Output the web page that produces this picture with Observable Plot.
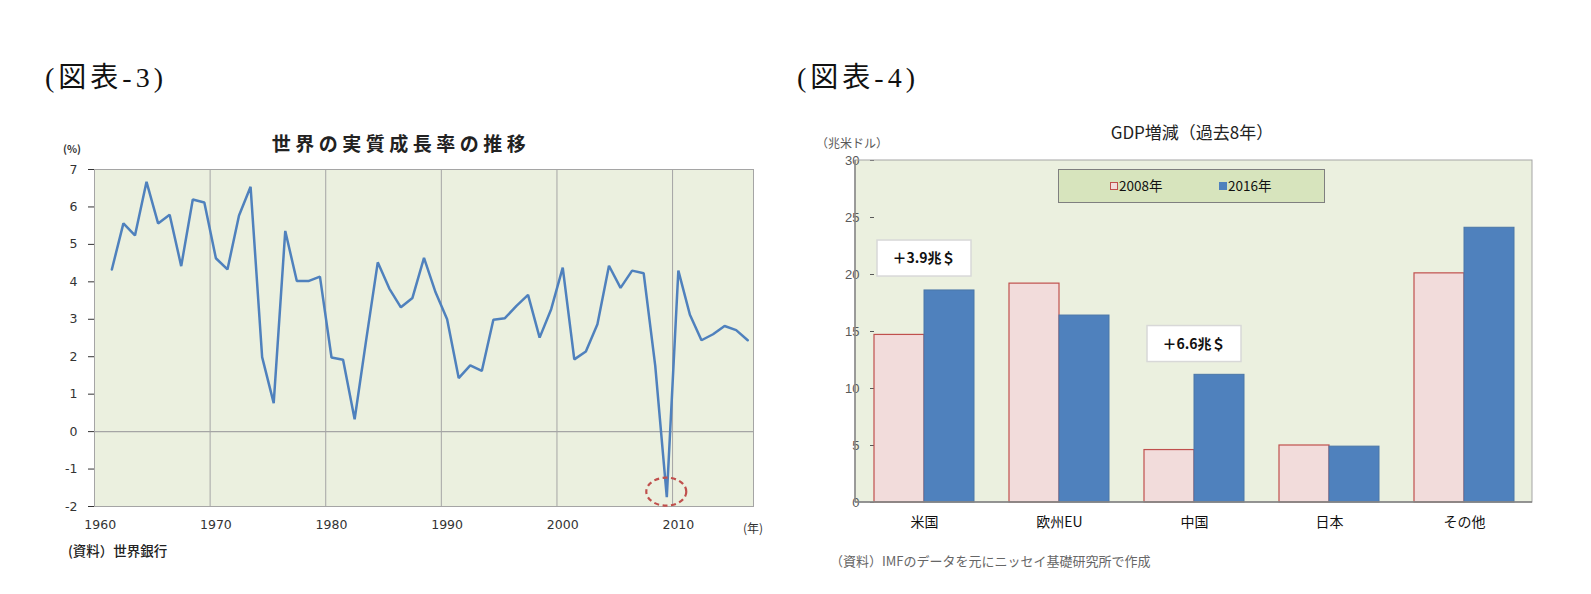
<!DOCTYPE html>
<html><head><meta charset="utf-8">
<script src="https://cdn.jsdelivr.net/npm/d3@7"></script>
<script src="https://cdn.jsdelivr.net/npm/@observablehq/plot@0.6"></script>
<style>
html,body{margin:0;padding:0;background:#fff;}
#root{position:relative;width:1591px;height:594px;overflow:hidden;font-family:"Noto Sans CJK JP","Noto Sans",sans-serif;}
.lbl{position:absolute;white-space:nowrap;line-height:1;}
.chart{position:absolute;top:0;}
</style></head><body><div id="root"></div>
<script>
// ---------- Data: chart 3 (world real growth) ----------
const years = [1961,1962,1963,1964,1965,1966,1967,1968,1969,1970,
  1971,1972,1973,1974,1975,1976,1977,1978,1979,1980,
  1981,1982,1983,1984,1985,1986,1987,1988,1989,1990,
  1991,1992,1993,1994,1995,1996,1997,1998,1999,2000,
  2001,2002,2003,2004,2005,2006,2007,2008,2009,2010,
  2011,2012,2013,2014,2015,2016];
const growth = [4.33,5.56,5.24,6.67,5.56,5.79,4.42,6.20,6.12,4.63,
  4.33,5.77,6.54,1.99,0.76,5.36,4.02,4.02,4.14,1.98,
  1.92,0.33,2.45,4.52,3.82,3.32,3.57,4.64,3.72,3.00,
  1.43,1.77,1.62,2.99,3.03,3.36,3.65,2.51,3.27,4.38,
  1.93,2.14,2.87,4.43,3.84,4.30,4.23,1.76,-1.75,4.30,
  3.12,2.44,2.60,2.82,2.71,2.44];
const decadeTicks = [1960,1970,1980,1990,2000,2010];
const growthTicks = [-2,-1,0,1,2,3,4,5,6,7];
const lowYear = 2009;

// ---------- Data: chart 4 (GDP) ----------
const regions = ["米国","欧州EU","中国","日本","その他"];
const seriesNames = ["2008年","2016年"];
const gdp2008 = [14.7,19.2,4.6,5.0,20.1];
const gdp2016 = [18.6,16.4,11.2,4.9,24.1];
const gdpTicks = [0,5,10,15,20,25,30];
const noteRegions = ["米国","中国"];
const noteTexts = ["＋3.9兆＄","＋6.6兆＄"];
const noteLevels = [21.4,13.9];

const root = document.getElementById("root");
function label(text, x, y, css, anchor) {
  const d = document.createElement("div");
  d.className = "lbl";
  d.textContent = text;
  Object.assign(d.style, css || {});
  d.style.left = x + "px"; d.style.top = y + "px";
  d.style.transform = anchor === "middle" ? "translate(-50%,-50%)" : "translate(0,-50%)";
  root.appendChild(d);
  return d;
}

// ---------- Left chart ----------
const growthRows = years.map((y, i) => ({year: y, value: growth[i]}));
const left = Plot.plot({
  width: 790, height: 594,
  marginLeft: 94, marginRight: 37, marginTop: 169, marginBottom: 88,
  style: {fontFamily: "DejaVu Sans", fontSize: "12.5px", color: "#333", background: "transparent", overflow: "visible"},
  x: {domain: [1959.5, 2016.5], ticks: decadeTicks, tickFormat: d => String(d), tickSize: 0, tickPadding: 14, label: null},
  y: {domain: [-2, 7], ticks: growthTicks, tickFormat: d => String(d), tickSize: 6, tickPadding: 11, label: null},
  marks: [
    Plot.frame({fill: "#EBF0DF", stroke: "none"}),
    Plot.ruleX(decadeTicks.slice(1), {x: d => d - 0.5, stroke: "#A5A5A5", strokeWidth: 1}),
    Plot.ruleY([0], {stroke: "#A5A5A5", strokeWidth: 1.2}),
    Plot.frame({stroke: "#A5A5A5"}),
    Plot.line(growthRows, {x: "year", y: "value", stroke: "#4F81BD", strokeWidth: 2.5, strokeLinejoin: "miter"}),
    (index, scales) => {
      const low = growthRows.find(d => d.year === lowYear);
      return d3.create("svg:ellipse")
        .attr("cx", scales.x(low.year))
        .attr("cy", scales.y(low.value) - 5)
        .attr("rx", 20).attr("ry", 14)
        .attr("fill", "none").attr("stroke", "#C0504D")
        .attr("stroke-width", 2.2).attr("stroke-dasharray", "5,3.5")
        .node();
    }
  ]
});
left.classList.add("chart");
left.style.left = "0px";
root.appendChild(left);

label("(図表-3)", 45, 78, {fontFamily: '"Liberation Serif","Noto Sans CJK JP"', fontSize: "28px", letterSpacing: "4px", color: "#111"});
label("世界の実質成長率の推移", 401, 142, {fontSize: "19px", fontWeight: "bold", letterSpacing: "4.5px", color: "#222"}, "middle");
label("(%)", 63, 149, {fontSize: "10.5px", fontWeight: "bold", color: "#333"});
label("(年)", 743, 528, {fontSize: "12px", color: "#333"});
label("(資料）世界銀行", 68, 551, {fontSize: "13.5px", color: "#222", fontWeight: "500"});

// ---------- Right chart ----------
const gdpRows = regions.flatMap((r, i) => [
  {region: r, series: seriesNames[0], value: gdp2008[i]},
  {region: r, series: seriesNames[1], value: gdp2016[i]}
]);
const right = Plot.plot({
  width: 801, height: 594,
  marginLeft: 65, marginRight: 59, marginTop: 160, marginBottom: 92,
  style: {fontFamily: '"Liberation Sans","Noto Sans CJK JP"', fontSize: "13px", color: "#595959", background: "transparent", overflow: "visible"},
  facet: {data: gdpRows, x: "region"},
  fx: {domain: regions, paddingInner: 0.262, paddingOuter: 0.131, axis: "bottom", label: null, tickSize: 0, tickPadding: 15},
  x: {domain: seriesNames, padding: 0, axis: null},
  y: {domain: [0, 30], ticks: gdpTicks, tickSize: 4, tickPadding: 11, label: null},
  marks: [
    Plot.barY(gdpRows, {filter: d => d.series === seriesNames[0], x: "series", y: "value", fill: "#F2DCDB", stroke: "#C0504D", strokeWidth: 1.2}),
    Plot.barY(gdpRows, {filter: d => d.series === seriesNames[1], x: "series", y: "value", fill: "#4F81BD", stroke: "#4A76A8", strokeWidth: 1})
  ]
});
right.classList.add("chart");
right.style.left = "790px";
root.appendChild(right);

(function decorate() {
  const svg = d3.select(right);
  const fx = right.scale("fx"), ys = right.scale("y");
  const xa = fx.range[0], xb = fx.range[1];
  const yb = ys.range[0], yt = ys.range[1];
  svg.insert("rect", ":first-child")
    .attr("x", xa).attr("y", yt).attr("width", xb - xa).attr("height", yb - yt)
    .attr("fill", "#EBF0DF");
  svg.append("rect")
    .attr("x", xa).attr("y", yt).attr("width", xb - xa).attr("height", yb - yt)
    .attr("fill", "none").attr("stroke", "#A5A5A5");
  svg.append("line").attr("x1", xa).attr("x2", xa).attr("y1", yt).attr("y2", yb).attr("stroke", "#7F7F7F").attr("stroke-width", 1.3);
  svg.append("line").attr("x1", xa).attr("x2", xb).attr("y1", yb).attr("y2", yb).attr("stroke", "#7F7F7F").attr("stroke-width", 1.3);
  // category labels
  svg.selectAll('[aria-label^="fx-axis"] text').attr("font-size", "14px").attr("fill", "#111")
    .style("font-family", '"Noto Sans CJK JP","Noto Sans",sans-serif');
  // annotation boxes
  noteRegions.forEach((r, i) => {
    const cx = fx.apply(r) + fx.bandwidth / 2;
    const cy = ys.apply(noteLevels[i]);
    const g = svg.append("g");
    g.append("rect").attr("x", cx - 47).attr("y", cy - 18).attr("width", 94).attr("height", 36)
      .attr("fill", "#fff").attr("stroke", "#D8D8D8").attr("stroke-width", 1.5);
    g.append("text").attr("x", cx).attr("y", cy).attr("text-anchor", "middle").attr("dy", "0.36em")
      .attr("font-size", "14px").attr("font-weight", "bold").attr("fill", "#111")
      .style("font-family", '"Noto Sans CJK JP","Noto Sans",sans-serif')
      .text(noteTexts[i]);
  });
})();

label("(図表-4)", 797, 78, {fontFamily: '"Liberation Serif","Noto Sans CJK JP"', fontSize: "28px", letterSpacing: "4px", color: "#111"});
label("GDP増減（過去8年）", 1192, 131, {fontSize: "17px", color: "#222"}, "middle");
label("（兆米ドル）", 816, 143, {fontSize: "12px", color: "#595959"});
label("（資料）IMFのデータを元にニッセイ基礎研究所で作成", 830, 560, {fontSize: "13px", color: "#666"});

// legend box
const lg = document.createElement("div");
Object.assign(lg.style, {position: "absolute", left: "1058px", top: "169px", width: "267px", height: "34px",
  background: "#D7E4BD", border: "1px solid #7F7F7F", boxSizing: "border-box"});
root.appendChild(lg);
const swatches = [{fill: "#F2DCDB", stroke: "#C0504D", x: 1110}, {fill: "#4F81BD", stroke: "#4F81BD", x: 1219}];
seriesNames.forEach((s, i) => {
  const sw = document.createElement("div");
  Object.assign(sw.style, {position: "absolute", left: swatches[i].x + "px", top: "182px", width: "8px", height: "8px",
    background: swatches[i].fill, border: "1px solid " + swatches[i].stroke, boxSizing: "border-box"});
  root.appendChild(sw);
  label(s, swatches[i].x + 9, 186, {fontSize: "13.5px", color: "#111"});
});
</script></body></html>
